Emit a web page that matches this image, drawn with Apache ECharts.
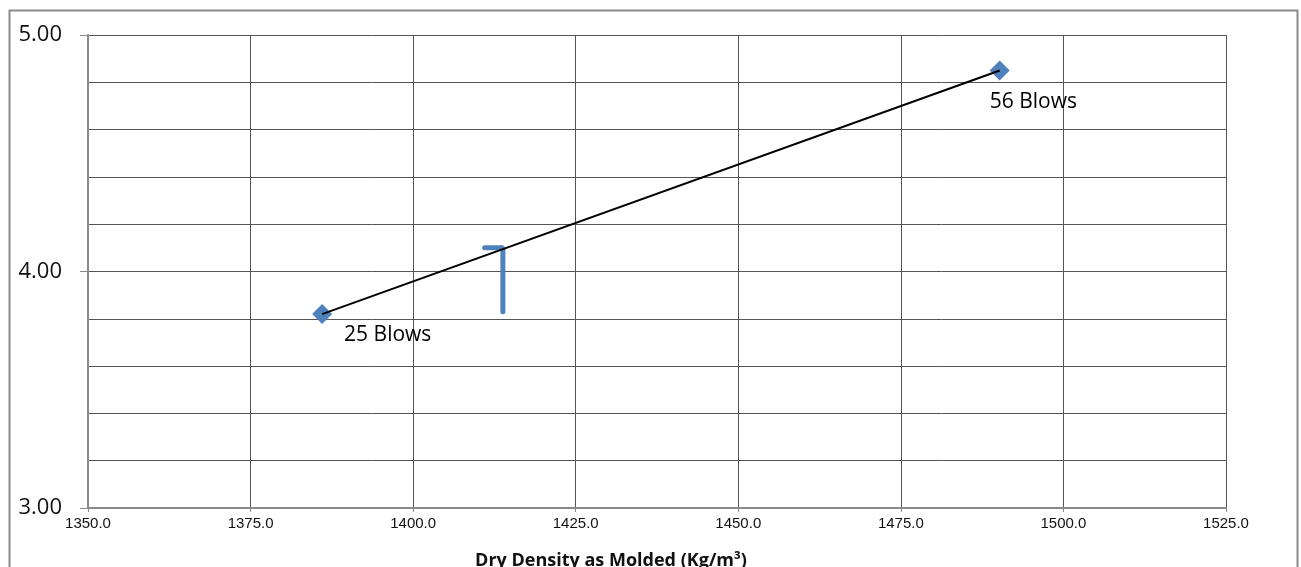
<!DOCTYPE html>
<html>
<head>
<meta charset="utf-8">
<style>
  html, body { margin: 0; padding: 0; background: #fff; }
  #chart { width: 1301px; height: 567px; }
</style>
<script src="https://cdn.jsdelivr.net/npm/echarts@6/dist/echarts.min.js"></script>
</head>
<body>
<div id="chart"></div>
<script>
// Compaction test points: dry density vs. value
const blowLabels = ['25 Blows', '56 Blows'];
const dryDensity = [1386.0, 1490.2];
const values = [3.82, 4.85];

// Interpolated reading marker (cap at the reading, drop line to the trend)
const readingX = [1411.0, 1413.8, 1413.8];
const readingY = [4.10, 4.10, 3.83];

// Axis settings
const xMin = 1350, xMax = 1525, xStep = 25;
const yMin = 3, yMax = 5, yStep = 1;
const xTitle = 'Dry Density as Molded (Kg/m³)';

const blue = '#4f81bd';
const chart = echarts.init(document.getElementById('chart'));

const labelPos = [[32, 31], [0, 42]];

chart.setOption({
  animation: false,
  grid: { left: 88, right: 75, top: 35, bottom: 59, containLabel: false },
  xAxis: {
    type: 'value', min: xMin, max: xMax, interval: xStep,
    axisLine: { onZero: false, lineStyle: { color: '#8a8a8a', width: 2 } },
    axisTick: { show: true, length: 4, lineStyle: { color: '#8a8a8a', width: 1 } },
    axisLabel: { color: '#111', fontFamily: 'Liberation Sans', fontSize: 15, margin: 8,
      formatter: v => v.toFixed(1) },
    splitLine: { show: true, lineStyle: { color: '#555', width: 1 } }
  },
  yAxis: {
    type: 'value', min: yMin, max: yMax, interval: yStep,
    axisLine: { show: true, onZero: false, lineStyle: { color: '#8a8a8a', width: 2 } },
    axisTick: { show: true, length: 8, lineStyle: { color: '#8a8a8a', width: 1 } },
    axisLabel: { color: '#111', fontFamily: 'Open Sans', fontSize: 22, margin: 26,
      formatter: v => v.toFixed(2) },
    splitLine: { show: true, lineStyle: { color: '#555', width: 1 } },
    minorTick: { show: false, splitNumber: 5 },
    minorSplitLine: { show: true, lineStyle: { color: '#555', width: 1 } }
  },
  graphic: [
    { type: 'rect', left: 7, top: 8, silent: true,
      shape: { width: 1288, height: 600 },
      style: { fill: 'none', stroke: '#8a8a8a', lineWidth: 2 } },
    { type: 'text', x: 611, y: 561, silent: true,
      style: { text: xTitle, font: 'bold 18px "Open Sans"', fill: '#111',
        align: 'center', verticalAlign: 'middle' } }
  ],
  series: [
    {
      type: 'line', symbol: 'none', z: 3,
      data: dryDensity.map((x, i) => [x, values[i]]),
      lineStyle: { color: '#000', width: 2 }
    },
    {
      type: 'line', symbol: 'none', z: 2,
      data: readingX.map((x, i) => [x, readingY[i]]),
      lineStyle: { color: blue, width: 5, cap: 'round' }
    },
    {
      type: 'scatter', symbol: 'diamond', symbolSize: 20, z: 2,
      itemStyle: { color: blue, opacity: 1 },
      data: dryDensity.map((x, i) => ({
        value: [x, values[i]],
        label: {
          show: true, formatter: blowLabels[i], position: labelPos[i],
          align: 'left', verticalAlign: 'middle',
          fontFamily: 'Open Sans', fontSize: 21, color: '#000', opacity: 1
        }
      }))
    }
  ]
});
</script>
</body>
</html>
